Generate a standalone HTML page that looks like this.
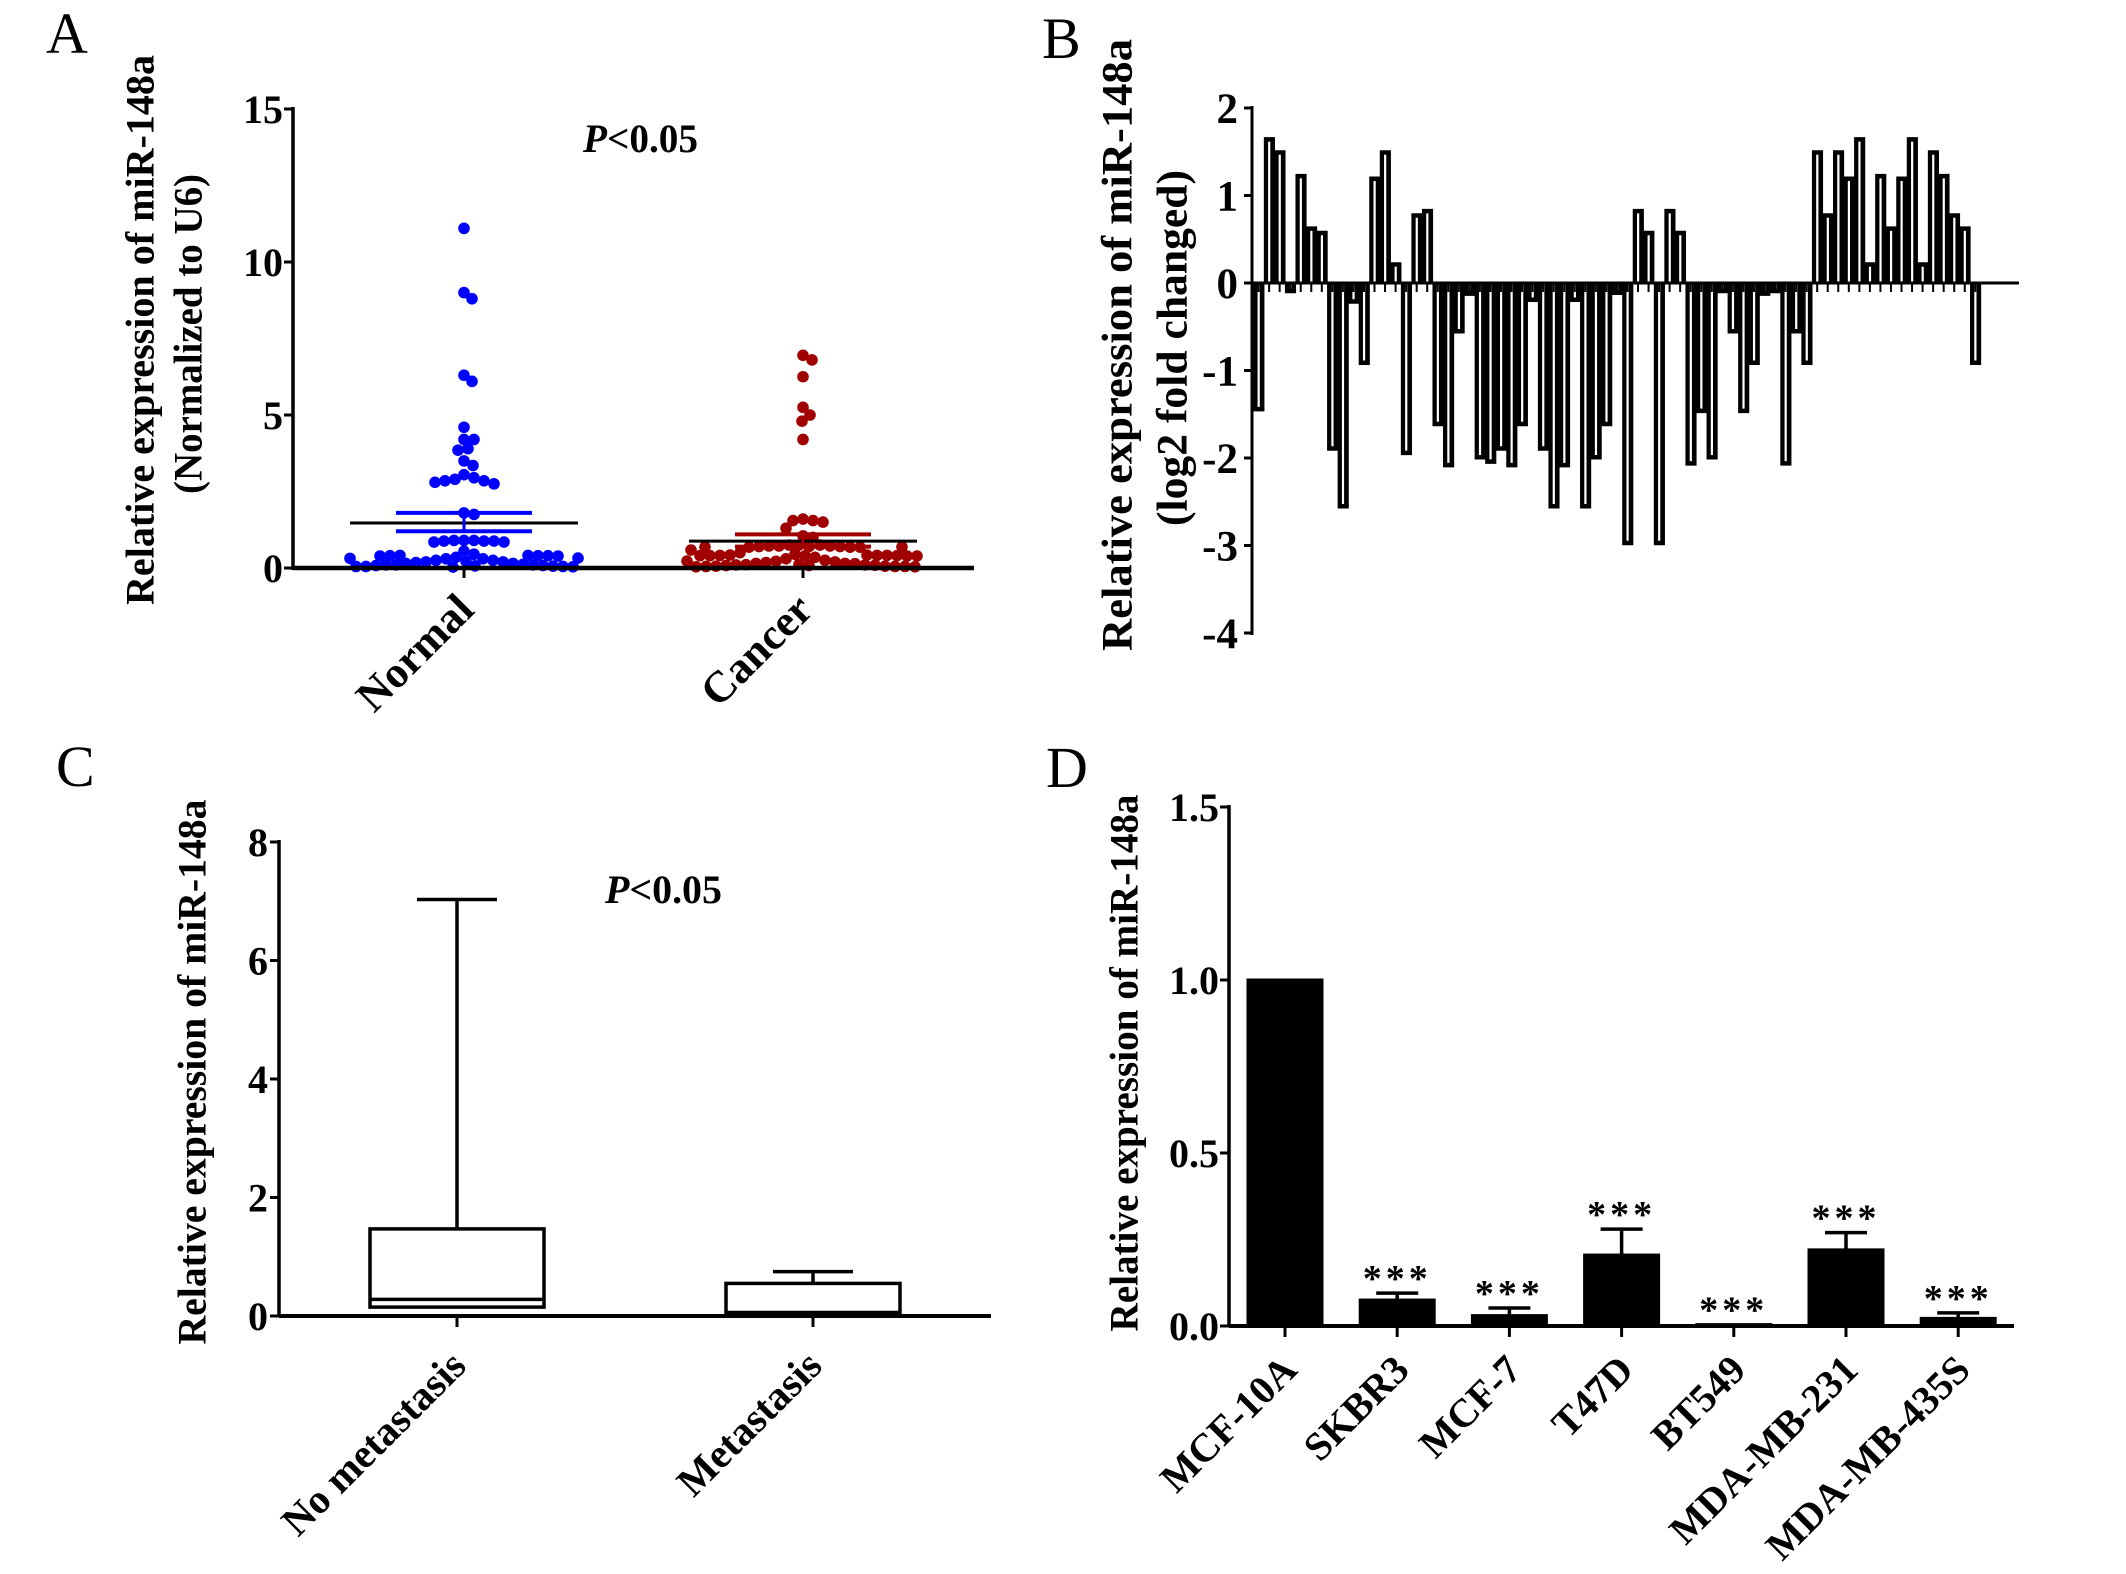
<!DOCTYPE html>
<html><head><meta charset="utf-8"><style>
html,body{margin:0;padding:0;background:#fff}
svg{display:block}
text{font-family:"Liberation Serif","Times New Roman",serif}
</style></head><body>
<svg id="fig" width="2126" height="1574" viewBox="0 0 2126 1574" xmlns="http://www.w3.org/2000/svg">
<rect width="2126" height="1574" fill="#fff"/>
<text x="46" y="53" font-size="58">A</text>
<text x="1042" y="58" font-size="58">B</text>
<text x="56" y="786" font-size="58">C</text>
<text x="1046" y="787" font-size="58">D</text>
</svg>
<script>
// ===== Panel A data =====
const aCategories = ["Normal", "Cancer"];
const aNormal = [11.1, 9.0, 8.8, 6.3, 6.1, 4.6, 4.2, 4.2, 3.9, 3.85, 3.5, 3.35, 3.05, 2.95, 2.9, 2.85, 2.85, 2.8, 2.75, 1.8, 1.75,
  0.9, 0.9, 0.88, 0.88, 0.85, 0.85, 0.88, 0.9, 0.55, 0.45, 0.35, 0.3, 0.3, 0.25, 0.25, 0.2, 0.2, 0.15, 0.15, 0.1, 0.1, 0.1,
  0.08, 0.08, 0.05, 0.05, 0.05, 0.04, 0.03, 0.03, 0.02, 0.02, 0.02, 0.01, 0.01, 0.01, 0.0, 0.0, 0.12, 0.18, 0.22, 0.06, 0.07];
const aCancer = [6.95, 6.8, 6.25, 5.25, 5.0, 4.8, 4.2, 1.6, 1.55, 1.55, 1.5, 1.3, 1.05, 1.0,
  0.75, 0.75, 0.75, 0.72, 0.72, 0.72, 0.7, 0.7, 0.7, 0.68, 0.68, 0.68, 0.5, 0.45, 0.4, 0.35, 0.3,
  0.25, 0.22, 0.2, 0.18, 0.15, 0.15, 0.12, 0.1, 0.1, 0.08, 0.08, 0.06, 0.05, 0.05, 0.05, 0.04, 0.04, 0.03, 0.03,
  0.02, 0.02, 0.02, 0.01, 0.01, 0.01, 0.0, 0.0, 0.0, 0.0, 0.0, 0.03, 0.06, 0.09, 0.11, 0.14];
const aMean = [1.47, 0.88];
const aSemLo = [1.2, 0.7];
const aSemHi = [1.8, 1.1];
const aTicks = [0, 5, 10, 15];
// ===== Panel B data =====
const bValues = [-1.45, 1.65, 1.5, -0.1, 1.23, 0.63, 0.58, -1.9, -2.56, -0.22, -0.92, 1.2, 1.5, 0.22, -1.95, 0.78, 0.83,
  -1.62, -2.09, -0.56, -0.13, -2.0, -2.05, -1.9, -2.09, -1.62, -0.2, -1.9, -2.56, -2.09, -0.2, -2.56, -2.0, -1.62, -0.12,
  -2.98, 0.83, 0.58, -2.98, 0.83, 0.58, -2.07, -1.47, -2.0, -0.1, -0.56, -1.47, -0.92, -0.13, -0.1, -2.07, -0.56, -0.92,
  1.5, 0.78, 1.5, 1.2, 1.65, 0.22, 1.23, 0.63, 1.2, 1.65, 0.22, 1.5, 1.23, 0.78, 0.63, -0.92];
const bTicks = [2, 1, 0, -1, -2, -3, -4];
// ===== Panel C data =====
const cCategories = ["No metastasis", "Metastasis"];
const cMax = [7.03, 0.75];
const cQ3 = [1.47, 0.55];
const cMedian = [0.28, 0.06];
const cQ1 = [0.15, 0.02];
const cTicks = [0, 2, 4, 6, 8];
// ===== Panel D data =====
const dCategories = ["MCF-10A", "SKBR3", "MCF-7", "T47D", "BT549", "MDA-MB-231", "MDA-MB-435S"];
const dValues = [1.0, 0.075, 0.03, 0.205, 0.004, 0.22, 0.022];
const dErrors = [0, 0.02, 0.022, 0.075, 0.0, 0.05, 0.016];
const dSig = ["", "***", "***", "***", "***", "***", "***"];
const dTicks = [0, 0.5, 1.0, 1.5];
const dTickLabels = ["0.0", "0.5", "1.0", "1.5"];

const NS = "http://www.w3.org/2000/svg";
const svg = document.getElementById("fig");
function mk(tag, attrs, parent) {
  const e = document.createElementNS(NS, tag);
  for (const k in attrs) e.setAttribute(k, attrs[k]);
  (parent || svg).appendChild(e);
  return e;
}
function txt(x, y, s, attrs) {
  const e = mk("text", Object.assign({x: x, y: y}, attrs));
  e.textContent = s;
  return e;
}
const BOLD = {"font-weight": "bold"};

// ================= PANEL A =================
(function () {
  const x0 = 293, x1 = 974, yTop = 109, yBot = 568;
  const ys = v => yBot - v * (yBot - yTop) / 15;
  const cx = [464, 803];
  let el = mk("line", {x1: x0, y1: yTop - 2, x2: x0, y2: yBot + 2, stroke: "#000", "stroke-width": 3.5});
  
  
  aTicks.forEach(t => {
    const l = mk("line", {x1: x0 - 9, y1: ys(t), x2: x0, y2: ys(t), stroke: "#000", "stroke-width": 3});
    
    
    const tl = txt(x0 - 10, ys(t) + 14, String(t), Object.assign({"font-size": 40, "text-anchor": "end"}, BOLD));
    
    
  });
  const colors = ["#0000ff", "#a00000"];
  const maxOff = 116;
  [aNormal, aCancer].forEach((vals, gi) => {
    const placed = [];
    const sorted = vals.slice().sort((a, b) => b - a);
    sorted.forEach(v => {
      let y = ys(v);
      let off = null;
      while (off === null) {
        for (let k = 0; k <= 2 * maxOff; k++) {
          const cand = (k % 2 ? 1 : -1) * Math.ceil(k / 2);
          if (placed.every(p => Math.hypot(p[0] - cand, p[1] - y) >= 10)) { off = cand; break; }
        }
        if (off === null) y -= 3;
      }
      placed.push([off, y]);
      const c = mk("circle", {cx: cx[gi] + off, cy: y, r: 5.8, fill: colors[gi]});
      
      
    });
  });
  el = mk("line", {x1: x0, y1: yBot, x2: x1, y2: yBot, stroke: "#000", "stroke-width": 4.5});
  
  
  cx.forEach((c, i) => {
    const t = mk("line", {x1: c, y1: yBot, x2: c, y2: yBot + 10, stroke: "#000", "stroke-width": 3});
    
    
    const semc = ["#0000ff", "#a00000"][i];
    const m = mk("line", {x1: c - 114, y1: ys(aMean[i]), x2: c + 114, y2: ys(aMean[i]), stroke: "#000", "stroke-width": 3});
    
    
    const hi = mk("line", {x1: c - 68, y1: ys(aSemHi[i]), x2: c + 68, y2: ys(aSemHi[i]), stroke: semc, "stroke-width": 4});
    
    
    const lo = mk("line", {x1: c - 68, y1: ys(aSemLo[i]), x2: c + 68, y2: ys(aSemLo[i]), stroke: semc, "stroke-width": 4});
    
    
    const vl = mk("line", {x1: c, y1: ys(aSemLo[i]), x2: c, y2: ys(aSemHi[i]), stroke: semc, "stroke-width": 3});
    
    
    const lab = txt(c + 12, yBot + 44, aCategories[i], Object.assign({"font-size": 44, "text-anchor": "end", transform: `rotate(-45 ${c + 12} ${yBot + 44})`}, BOLD));
    
    
  });
  el = txt(140, 330, "Relative expression of miR-148a", Object.assign({"font-size": 40, "text-anchor": "middle", "dominant-baseline": "central", textLength: 550, lengthAdjust: "spacingAndGlyphs", transform: "rotate(-90 140 330)"}, BOLD));
  
  
  el = txt(188, 334, "(Normalized to U6)", Object.assign({"font-size": 40, "text-anchor": "middle", "dominant-baseline": "central", textLength: 320, lengthAdjust: "spacingAndGlyphs", transform: "rotate(-90 188 334)"}, BOLD));
  
  
  el = txt(583, 152, "", Object.assign({"font-size": 40, textLength: 115, lengthAdjust: "spacingAndGlyphs"}, BOLD));
  el.innerHTML = '<tspan font-style="italic">P</tspan>&lt;0.05';
  
  
})();

// ================= PANEL B =================
(function () {
  const xA = 1252, y0 = 283, unit = 87.5, xStart = 1253.3, pitch = 10.54;
  const ys = v => y0 - v * unit;
  let el = mk("line", {x1: xA, y1: ys(2) - 2, x2: xA, y2: ys(-4) + 2, stroke: "#000", "stroke-width": 3});
  
  
  bTicks.forEach(t => {
    const l = mk("line", {x1: xA - 8, y1: ys(t), x2: xA, y2: ys(t), stroke: "#000", "stroke-width": 3});
    
    
    const tl = txt(xA - 14, ys(t) + 15, t < 0 ? "-" + Math.abs(t) : String(t), Object.assign({"font-size": 43, "text-anchor": "end"}, BOLD));
    
    
  });
  bValues.forEach((v, i) => {
    const x = xStart + i * pitch;
    const yv = ys(v);
    const top = Math.min(y0, yv) - 1.5, bot = Math.max(y0, yv) + 1.5;
    const r = mk("rect", {x: x, y: top, width: pitch + 0.6, height: bot - top, fill: "#000"});
    
    
    const wTop = v > 0 ? yv + 3 : y0 + 1;
    const wBot = v > 0 ? y0 - 1 : yv - 3;
    if (wBot > wTop) {
      const w = mk("rect", {x: x + pitch / 2 - 1, y: wTop, width: 2.2, height: wBot - wTop, fill: "#fff"});
      
      
    }
  });
  el = mk("line", {x1: xA, y1: y0, x2: 2019, y2: y0, stroke: "#000", "stroke-width": 3});
  
  
  bValues.forEach((v, i) => {
    const x = xStart + (i + 0.5) * pitch;
    const t = mk("line", {x1: x, y1: y0, x2: x, y2: y0 + 9, stroke: "#000", "stroke-width": 2});
    
    
  });
  el = txt(1118, 345, "Relative expression of miR-148a", Object.assign({"font-size": 43, "text-anchor": "middle", "dominant-baseline": "central", textLength: 612, lengthAdjust: "spacingAndGlyphs", transform: "rotate(-90 1118 345)"}, BOLD));
  
  
  el = txt(1173, 348, "(log2 fold changed)", Object.assign({"font-size": 43, "text-anchor": "middle", "dominant-baseline": "central", textLength: 356, lengthAdjust: "spacingAndGlyphs", transform: "rotate(-90 1173 348)"}, BOLD));
  
  
})();

// ================= PANEL C =================
(function () {
  const xA = 279, x1 = 991, yTop = 842, yBot = 1316;
  const ys = v => yBot - v * (yBot - yTop) / 8;
  const cx = [457, 813], half = 87, cap = 40;
  let el = mk("line", {x1: xA, y1: yTop - 2, x2: xA, y2: yBot, stroke: "#000", "stroke-width": 3.5});
  
  
  cTicks.forEach(t => {
    const l = mk("line", {x1: xA - 9, y1: ys(t), x2: xA, y2: ys(t), stroke: "#000", "stroke-width": 3});
    
    
    const tl = txt(xA - 11, ys(t) + 14, String(t), Object.assign({"font-size": 40, "text-anchor": "end"}, BOLD));
    
    
  });
  cx.forEach((c, i) => {
    const wh = mk("line", {x1: c, y1: ys(cMax[i]), x2: c, y2: ys(cQ3[i]), stroke: "#000", "stroke-width": 3.5});
    
    
    const cp = mk("line", {x1: c - cap, y1: ys(cMax[i]), x2: c + cap, y2: ys(cMax[i]), stroke: "#000", "stroke-width": 3.5});
    
    
    const bx = mk("rect", {x: c - half, y: ys(cQ3[i]), width: 2 * half, height: ys(cQ1[i]) - ys(cQ3[i]), fill: "#fff", stroke: "#000", "stroke-width": 3.5});
    
    
    const md = mk("line", {x1: c - half, y1: ys(cMedian[i]), x2: c + half, y2: ys(cMedian[i]), stroke: "#000", "stroke-width": 3.5});
    
    
  });
  el = mk("line", {x1: xA, y1: yBot, x2: x1, y2: yBot, stroke: "#000", "stroke-width": 4});
  
  
  cx.forEach((c, i) => {
    const t = mk("line", {x1: c, y1: yBot, x2: c, y2: yBot + 11, stroke: "#000", "stroke-width": 3});
    
    
    const lab = txt(c + 11, yBot + 52, cCategories[i], Object.assign({"font-size": 41, "text-anchor": "end", transform: `rotate(-45 ${c + 11} ${yBot + 52})`}, BOLD));
    
    
  });
  el = txt(192, 1072, "Relative expression of miR-148a", Object.assign({"font-size": 40, "text-anchor": "middle", "dominant-baseline": "central", textLength: 545, lengthAdjust: "spacingAndGlyphs", transform: "rotate(-90 192 1072)"}, BOLD));
  
  
  el = txt(605, 903, "", Object.assign({"font-size": 40, textLength: 117, lengthAdjust: "spacingAndGlyphs"}, BOLD));
  el.innerHTML = '<tspan font-style="italic">P</tspan>&lt;0.05';
  
  
})();

// ================= PANEL D =================
(function () {
  const xA = 1229, x1 = 2014, yTop = 807, yBot = 1326;
  const ys = v => yBot - v * (yBot - yTop) / 1.5;
  const cx0 = 1285, pitch = 112.2, bw = 77;
  let el = mk("line", {x1: xA, y1: yTop - 2, x2: xA, y2: yBot, stroke: "#000", "stroke-width": 3.5});
  
  
  dTicks.forEach((t, i) => {
    const l = mk("line", {x1: xA - 9, y1: ys(t), x2: xA, y2: ys(t), stroke: "#000", "stroke-width": 3});
    
    
    const tl = txt(xA - 10, ys(t) + 14, dTickLabels[i], Object.assign({"font-size": 40, "text-anchor": "end"}, BOLD));
    
    
  });
  dValues.forEach((v, i) => {
    const c = cx0 + i * pitch;
    if (dErrors[i] > 0) {
      const st = mk("line", {x1: c, y1: ys(v), x2: c, y2: ys(v + dErrors[i]), stroke: "#000", "stroke-width": 3.5});
      
      
      const cp = mk("line", {x1: c - 21, y1: ys(v + dErrors[i]), x2: c + 21, y2: ys(v + dErrors[i]), stroke: "#000", "stroke-width": 3.5});
      
      
    }
    const r = mk("rect", {x: c - bw / 2, y: ys(v) - 1.5, width: bw, height: yBot - ys(v) + 1.5, fill: "#000"});
    
    
    if (dSig[i]) {
      const s = txt(c, ys(v + dErrors[i]) - 2, dSig[i], {"font-size": 38, "text-anchor": "middle", "letter-spacing": 4, "font-weight": "bold"});
      
      
    }
  });
  el = mk("line", {x1: xA, y1: yBot, x2: x1, y2: yBot, stroke: "#000", "stroke-width": 4});
  
  
  dCategories.forEach((name, i) => {
    const c = cx0 + i * pitch;
    const t = mk("line", {x1: c, y1: yBot, x2: c, y2: yBot + 11, stroke: "#000", "stroke-width": 3});
    
    
    const lab = txt(c + 14, yBot + 46, name, Object.assign({"font-size": 40, "text-anchor": "end", transform: `rotate(-45 ${c + 14} ${yBot + 46})`}, BOLD));
    
    
  });
  el = txt(1124, 1063, "Relative expression of miR-148a", Object.assign({"font-size": 40, "text-anchor": "middle", "dominant-baseline": "central", textLength: 537, lengthAdjust: "spacingAndGlyphs", transform: "rotate(-90 1124 1063)"}, BOLD));
  
  
})();
</script>
</body></html>
